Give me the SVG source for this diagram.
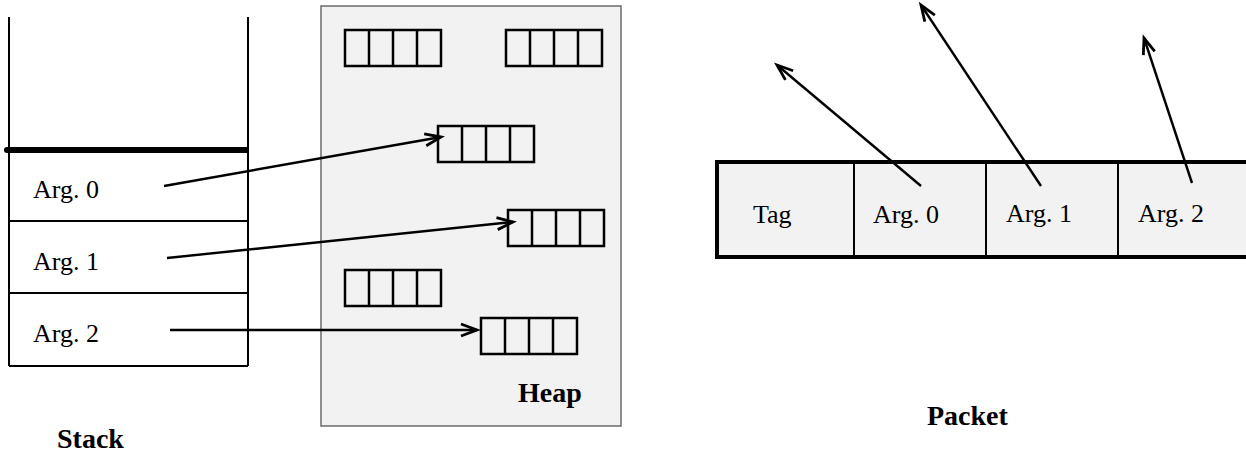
<svg xmlns="http://www.w3.org/2000/svg" width="1246" height="457" viewBox="0 0 1246 457">
<style>
.t{font-family:"Liberation Serif","Times New Roman",serif;font-size:26px;fill:#000}
.b{font-family:"Liberation Serif","Times New Roman",serif;font-size:28px;font-weight:bold;fill:#000}
.ln{stroke:#000;stroke-width:2;fill:none}
.cell{fill:none;stroke:#000;stroke-width:2.5}
.arr{stroke:#000;stroke-width:2.4;fill:none;marker-end:url(#ah)}
</style>
<defs>
<marker id="ah" markerUnits="userSpaceOnUse" markerWidth="20" markerHeight="16" viewBox="-17 -8 20 16" refX="0" refY="0" orient="auto" overflow="visible">
<path d="M-16,-6 L0,0 L-16,6" fill="none" stroke="#000" stroke-width="2.8" stroke-linejoin="miter"/>
</marker>
<g id="blk">
<rect x="0" y="0" width="96" height="36" class="cell"/>
<path d="M24,0V36M48,0V36M72,0V36" class="cell"/>
</g>
</defs>
<g id="stack">
<path d="M9,17V366M248,17V366M9,221H248M9,293H248M9,366H248" class="ln"/>
<line x1="7" y1="150" x2="248" y2="150" stroke="#000" stroke-width="6"/>
<circle cx="7" cy="150" r="3" fill="#000"/>
<text class="t" x="33" y="198">Arg. 0</text>
<text class="t" x="33" y="270">Arg. 1</text>
<text class="t" x="33" y="342">Arg. 2</text>
<text class="b" x="57" y="448">Stack</text>
</g>
<g id="heap">
<rect x="321" y="6" width="300" height="420" fill="#f2f2f2" stroke="#6b6b6b" stroke-width="1.5"/>
<use href="#blk" x="345" y="30"/>
<use href="#blk" x="506" y="30"/>
<use href="#blk" x="438" y="126"/>
<use href="#blk" x="508" y="210"/>
<use href="#blk" x="345" y="270"/>
<use href="#blk" x="481" y="318"/>
<text class="b" x="518" y="402">Heap</text>
</g>
<g id="packet">
<rect x="717" y="162" width="540" height="95" fill="#f2f2f2" stroke="#000" stroke-width="4"/>
<path d="M854,162V257M986,162V257M1118,162V257" class="ln"/>
<text class="t" x="753" y="223">Tag</text>
<text class="t" x="873" y="223">Arg. 0</text>
<text class="t" x="1006" y="222">Arg. 1</text>
<text class="t" x="1138" y="222">Arg. 2</text>
<text class="b" x="927" y="425">Packet</text>
</g>
<g id="connectors">
<line class="arr" x1="164" y1="186" x2="441" y2="137"/>
<line class="arr" x1="167" y1="258" x2="513" y2="222"/>
<line class="arr" x1="170" y1="330" x2="477" y2="330"/>
<line class="arr" x1="921" y1="186" x2="777" y2="65"/>
<line class="arr" x1="1041" y1="186" x2="921" y2="5"/>
<line class="arr" x1="1192" y1="183" x2="1144" y2="38"/>
</g>
</svg>
